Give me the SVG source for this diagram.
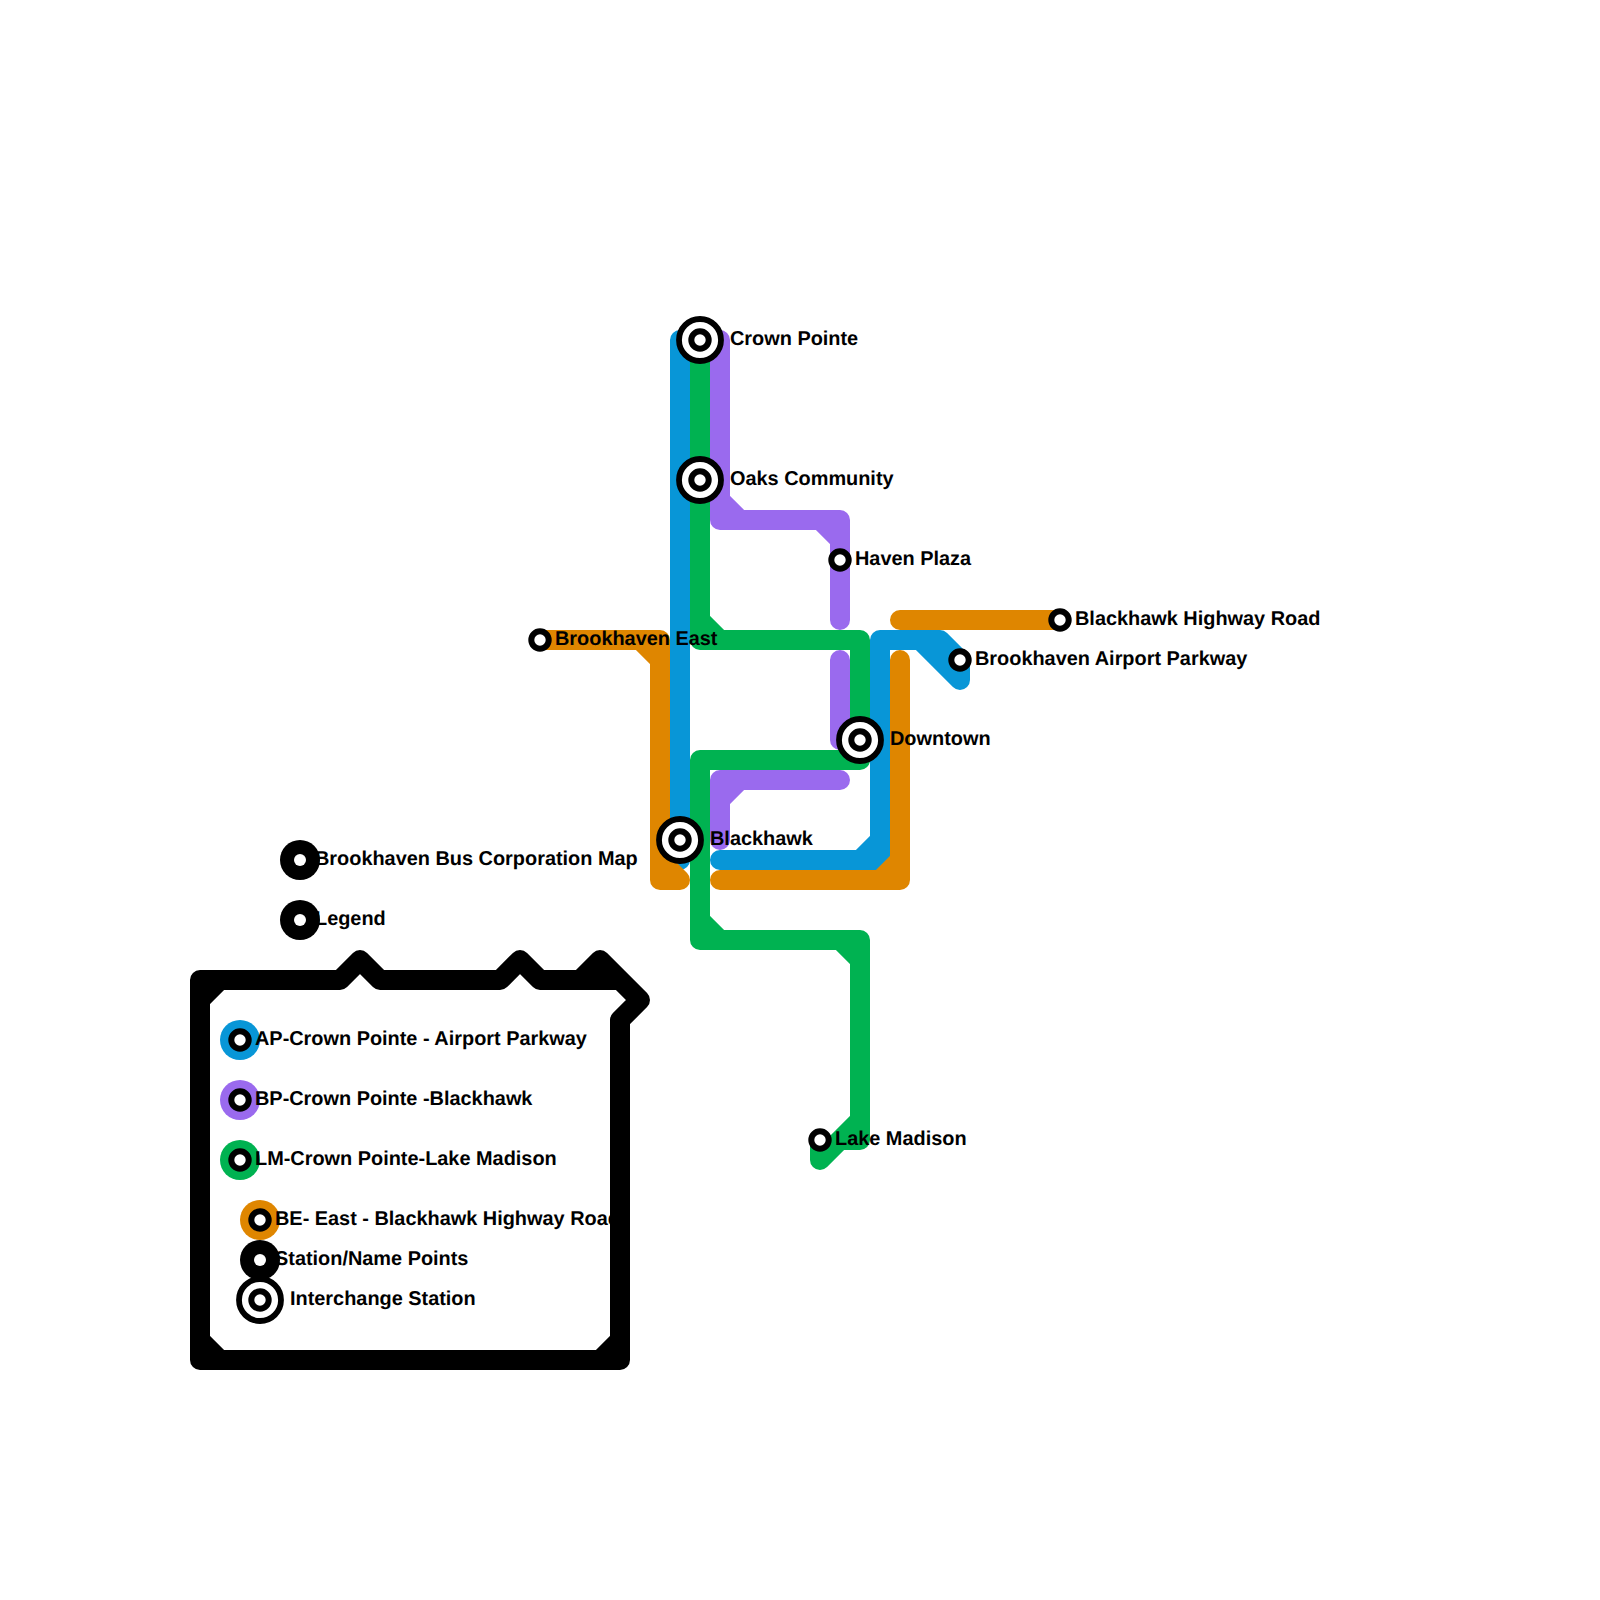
<svg xmlns="http://www.w3.org/2000/svg" width="1600" height="1600" viewBox="0 0 1600 1600">
<style>
.ln{fill:none;stroke-width:20;stroke-linecap:round;stroke-linejoin:round}
.b{stroke:#0896d7}.p{stroke:#9a6aee}.g{stroke:#00b251}.o{stroke:#df8600}.k{stroke:#000}
.ring{fill:#fff;stroke:#000;stroke-width:6}
.xr{fill:#fff;stroke:#000;stroke-width:5.8}
.dot{fill:#fff}
text{font-family:"Liberation Sans",Arial,sans-serif;font-size:19.9px;font-weight:700;fill:#000;text-rendering:geometricPrecision}
</style>
<defs>
<g id="st"><circle class="ring" r="8.7"/></g>
<g id="xc"><circle class="xr" r="21"/><circle class="ring" r="8.7"/></g>
<g id="bd"><circle r="20" fill="#000"/><circle class="dot" r="6"/></g>
</defs>
<rect width="1600" height="1600" fill="#fff"/>
<g id="connectors">
<path class="ln b" d="M680,340V860M720,860H880V640H940L960,660V680L920,640M860,860L880,840"/>
<path class="ln p" d="M720,340V520H820L840,540V620M720,500L740,520H840V540M840,660V740M840,780H720V840M720,800L740,780"/>
<path class="ln g" d="M700,340V640H860V760H700V940H860V1140H840L820,1160V1140M700,620L720,640M700,920L720,940M840,940L860,960M860,1120L820,1160"/>
<path class="ln o" d="M540,640H660V880H680L660,860M640,640L660,660M720,880H900V660M880,880L900,860M900,620H1060"/>
<path class="ln k" d="M200,1000V980H340L360,960L380,980H500L520,960L540,980H620M580,980L600,960L640,1000L620,1020V1360H200V980M200,1000L220,980M200,1340L220,1360M620,1340L600,1360"/>
</g>
<g id="crown-pointe"><use href="#xc" x="700" y="340"/><text x="730" y="345">Crown Pointe</text></g>
<g id="oaks-community"><use href="#xc" x="700" y="480"/><text x="730" y="485">Oaks Community</text></g>
<g id="haven-plaza"><use href="#st" x="840" y="560"/><text x="855" y="565">Haven Plaza</text></g>
<g id="brookhaven-east"><use href="#st" x="540" y="640"/><text x="555" y="645">Brookhaven East</text></g>
<g id="blackhawk-highway-road"><use href="#st" x="1060" y="620"/><text x="1075" y="625">Blackhawk Highway Road</text></g>
<g id="brookhaven-airport-parkway"><use href="#st" x="960" y="660"/><text x="975" y="665">Brookhaven Airport Parkway</text></g>
<g id="downtown"><use href="#xc" x="860" y="740"/><text x="890" y="745">Downtown</text></g>
<g id="blackhawk"><use href="#xc" x="680" y="840"/><text x="710" y="845">Blackhawk</text></g>
<g id="lake-madison"><use href="#st" x="820" y="1140"/><text x="835" y="1145">Lake Madison</text></g>
<g id="map-title"><use href="#bd" x="300" y="860"/><text x="315" y="865">Brookhaven Bus Corporation Map</text></g>
<g id="legend-title"><use href="#bd" x="300" y="920"/><text x="315" y="925">Legend</text></g>
<g id="legend-ap"><circle cx="240" cy="1040" r="20" fill="#0896d7"/><use href="#st" x="240" y="1040"/><text x="255" y="1045">AP-Crown Pointe - Airport Parkway</text></g>
<g id="legend-bp"><circle cx="240" cy="1100" r="20" fill="#9a6aee"/><use href="#st" x="240" y="1100"/><text x="255" y="1105">BP-Crown Pointe -Blackhawk</text></g>
<g id="legend-lm"><circle cx="240" cy="1160" r="20" fill="#00b251"/><use href="#st" x="240" y="1160"/><text x="255" y="1165">LM-Crown Pointe-Lake Madison</text></g>
<g id="legend-be"><circle cx="260" cy="1220" r="20" fill="#df8600"/><use href="#st" x="260" y="1220"/><text x="275" y="1225">BE- East - Blackhawk Highway Road</text></g>
<g id="legend-station"><use href="#bd" x="260" y="1260"/><text x="275" y="1265">Station/Name Points</text></g>
<g id="legend-interchange"><use href="#xc" x="260" y="1300"/><text x="290" y="1305">Interchange Station</text></g>
</svg>
